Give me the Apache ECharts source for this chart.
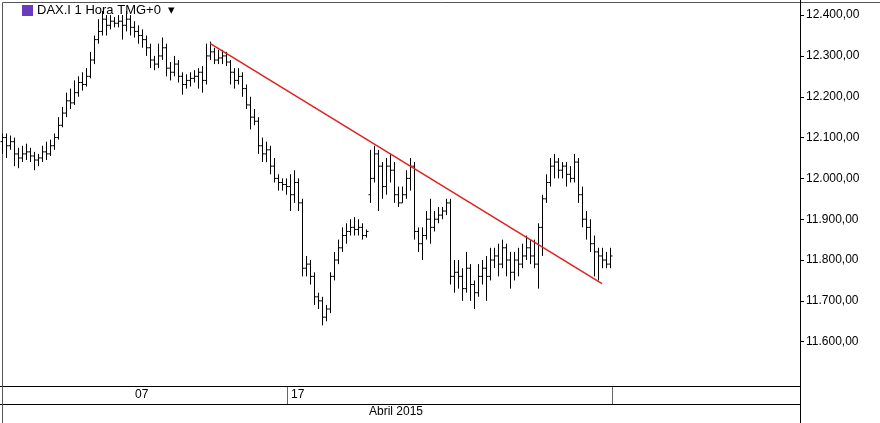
<!DOCTYPE html>
<html><head><meta charset="utf-8">
<script src="https://cdn.jsdelivr.net/npm/echarts@6/dist/echarts.min.js"></script>
<style>html,body{margin:0;padding:0;background:#fff}#c{width:880px;height:423px}</style>
</head><body><div id="c"></div>
<script>
const title = 'DAX.I 1 Hora TMG+0';
const dayLabels = ['07', '17'];
const monthLabel = 'Abril 2015';
const yTicks = [11600, 11700, 11800, 11900, 12000, 12100, 12200, 12300, 12400];
const slotCount = 200;
// [open, close, low, high]
const bars = [
[12090,12100,12060,12110],[12100,12080,12050,12110],[12080,12090,12070,12105],[12090,12060,12030,12100],
[12060,12050,12025,12075],[12050,12060,12040,12080],[12060,12065,12045,12085],[12065,12055,12040,12075],
[12055,12045,12020,12065],[12045,12050,12030,12060],[12050,12065,12040,12080],[12065,12060,12045,12090],
[12060,12080,12055,12095],[12080,12100,12070,12110],[12100,12130,12095,12150],[12130,12160,12125,12175],
[12160,12190,12150,12210],[12190,12185,12170,12220],[12185,12210,12180,12240],[12210,12235,12200,12250],
[12235,12230,12215,12260],[12230,12250,12225,12270],[12250,12290,12245,12310],[12290,12340,12280,12350],
[12340,12360,12330,12390],[12360,12390,12350,12410],[12390,12375,12350,12400],[12375,12385,12365,12400],
[12385,12380,12370,12395],[12380,12385,12370,12400],[12385,12375,12340,12400],[12375,12390,12360,12410],
[12390,12370,12350,12400],[12370,12360,12345,12385],[12360,12350,12330,12375],[12350,12340,12320,12365],
[12340,12320,12300,12350],[12320,12290,12270,12330],[12290,12280,12265,12300],[12280,12300,12270,12330],
[12300,12320,12290,12345],[12320,12270,12250,12330],[12270,12260,12240,12285],[12260,12280,12250,12300],
[12280,12250,12235,12290],[12250,12230,12205,12260],[12230,12240,12220,12255],[12240,12245,12225,12260],
[12245,12250,12235,12265],[12250,12260,12220,12270],[12260,12240,12210,12275],[12240,12300,12230,12330],
[12300,12310,12290,12335],[12310,12290,12280,12320],[12290,12295,12280,12315],[12295,12300,12280,12315],
[12300,12285,12275,12310],[12285,12260,12230,12290],[12260,12240,12220,12270],[12240,12250,12230,12270],
[12250,12220,12200,12260],[12220,12180,12170,12230],[12180,12150,12120,12200],[12150,12140,12130,12170],
[12140,12080,12060,12150],[12080,12060,12040,12100],[12060,12070,12040,12090],[12070,12030,12010,12080],
[12030,12000,11990,12050],[12000,11990,11970,12010],[11990,11985,11970,12000],[11985,11980,11960,12000],
[11980,11960,11920,12010],[11960,11990,11940,12020],[11990,11940,11920,12000],[11940,11780,11760,11950],
[11780,11790,11760,11810],[11790,11760,11740,11800],[11760,11710,11690,11770],[11710,11700,11680,11720],
[11700,11660,11640,11710],[11660,11680,11650,11690],[11680,11760,11670,11770],[11760,11800,11750,11820],
[11800,11830,11790,11850],[11830,11860,11820,11880],[11860,11870,11840,11890],[11870,11880,11860,11900],
[11880,11875,11860,11905],[11875,11880,11860,11900],[11880,11860,11850,11890],[11860,11870,11855,11875],
[11960,12000,11940,12070],[12000,12060,11990,12080],[12060,12030,11920,12070],[12030,11980,11950,12040],
[11980,12030,11960,12050],[12030,12020,11990,12060],[12020,11960,11940,12040],[11960,11940,11930,11980],
[11940,11960,11940,11980],[11960,12000,11950,12020],[12000,12030,11970,12050],[12030,11870,11850,12040],
[11870,11840,11820,11880],[11840,11860,11800,11880],[11860,11900,11850,11920],[11900,11880,11840,11950],
[11880,11900,11870,11920],[11900,11910,11890,11930],[11910,11920,11900,11930],[11920,11940,11910,11950],
[11940,11760,11740,11950],[11760,11770,11720,11800],[11770,11760,11730,11800],[11760,11730,11700,11780],
[11730,11780,11720,11820],[11780,11740,11700,11790],[11740,11720,11680,11750],[11720,11760,11710,11790],
[11760,11780,11740,11800],[11780,11760,11700,11810],[11760,11800,11750,11830],[11800,11810,11780,11830],
[11810,11790,11760,11840],[11790,11830,11780,11850],[11830,11800,11760,11840],[11800,11770,11730,11820],
[11770,11800,11750,11820],[11800,11790,11760,11830],[11790,11810,11780,11840],[11810,11830,11800,11860],
[11830,11810,11790,11850],[11810,11790,11780,11850],[11790,11880,11730,11890],[11880,11950,11810,11960],
[11950,11990,11940,12010],[11990,12030,11980,12050],[12030,12040,12000,12060],[12040,12020,12000,12050],
[12020,12030,12000,12040],[12030,12010,11980,12040],[12010,12000,11990,12030],[12000,12040,11990,12060],
[12040,11960,11940,12050],[11960,11900,11880,11980],[11900,11880,11850,11920],[11880,11840,11820,11900],
[11840,11820,11760,11860],[11820,11810,11750,11830],[11810,11800,11780,11830],[11800,11790,11780,11820],
[11790,11810,11780,11830]
];
const trendLine = [[52, 12331], [150, 11742]];

const categories = Array.from({length: slotCount}, (_, i) => String(i));
const seriesData = bars.map((b, i) => [i, b[0], b[1], b[2], b[3]]);
const fmt = v => v.toLocaleString('de-DE', {minimumFractionDigits: 2, maximumFractionDigits: 2});

const chart = echarts.init(document.getElementById('c'));
chart.setOption({
  animation: false,
  backgroundColor: '#fff',
  grid: {left: 0, right: 80, top: 0, bottom: 36},
  xAxis: {type: 'category', data: categories, boundaryGap: true,
    axisLine: {show: false}, axisTick: {show: false}, axisLabel: {show: false}, splitLine: {show: false}},
  yAxis: {type: 'value', position: 'right', min: 11489, max: 12437, scale: true,
    axisLine: {show: true, lineStyle: {color: '#000', width: 1}},
    axisTick: {show: true, length: 4, customValues: yTicks, lineStyle: {color: '#000'}},
    axisLabel: {customValues: yTicks, formatter: fmt, color: '#000', fontFamily: 'Liberation Sans', fontSize: 12, margin: 6},
    splitLine: {show: false}},
  series: [{
    type: 'custom',
    data: seriesData,
    encode: {x: 0, y: [1, 2, 3, 4]},
    renderItem: function (params, api) {
      const x = api.value(0);
      const o = api.coord([x, api.value(1)]);
      const c = api.coord([x, api.value(2)]);
      const l = api.coord([x, api.value(3)]);
      const h = api.coord([x, api.value(4)]);
      const st = {stroke: '#000', lineWidth: 1};
      const cx = Math.round(o[0]) + 0.5;
      return {type: 'group', children: [
        {type: 'line', shape: {x1: cx, y1: h[1], x2: cx, y2: l[1]}, style: st},
        {type: 'line', shape: {x1: cx - 2, y1: o[1], x2: cx, y2: o[1]}, style: st},
        {type: 'line', shape: {x1: cx, y1: c[1], x2: cx + 2, y2: c[1]}, style: st}
      ]};
    },
    markLine: {silent: true, symbol: 'none', label: {show: false},
      lineStyle: {color: '#e02020', width: 1.5, type: 'solid'},
      data: [[{coord: trendLine[0]}, {coord: trendLine[1]}]]}
  }],
  graphic: [
    {type: 'rect', left: 22, top: 5, shape: {width: 11, height: 11}, style: {fill: '#6a3bbf'}},
    {type: 'text', left: 37, top: 4, style: {text: title + '  ▾', font: '13px Liberation Sans', fill: '#000'}},
    {type: 'line', shape: {x1: 0, y1: 386.5, x2: 800, y2: 386.5}, style: {stroke: '#000', lineWidth: 1}},
    {type: 'line', shape: {x1: 0, y1: 404.5, x2: 800, y2: 404.5}, style: {stroke: '#000', lineWidth: 1}},
    {type: 'line', shape: {x1: 287.5, y1: 387, x2: 287.5, y2: 404}, style: {stroke: '#666', lineWidth: 1}},
    {type: 'line', shape: {x1: 612.5, y1: 387, x2: 612.5, y2: 404}, style: {stroke: '#666', lineWidth: 1}},
    {type: 'line', shape: {x1: 800.5, y1: 380, x2: 800.5, y2: 423}, style: {stroke: '#000', lineWidth: 1}},
    {type: 'text', left: 135, top: 389, style: {text: dayLabels[0], font: '12px Liberation Sans', fill: '#000'}},
    {type: 'text', left: 291, top: 389, style: {text: dayLabels[1], font: '12px Liberation Sans', fill: '#000'}},
    {type: 'text', left: 369, top: 406, style: {text: monthLabel, font: '12px Liberation Sans', fill: '#000'}},
    {type: 'rect', left: 0, top: 0, shape: {width: 879, height: 422}, style: {fill: 'none', stroke: '#555', lineWidth: 1}}
  ]
});
</script></body></html>
